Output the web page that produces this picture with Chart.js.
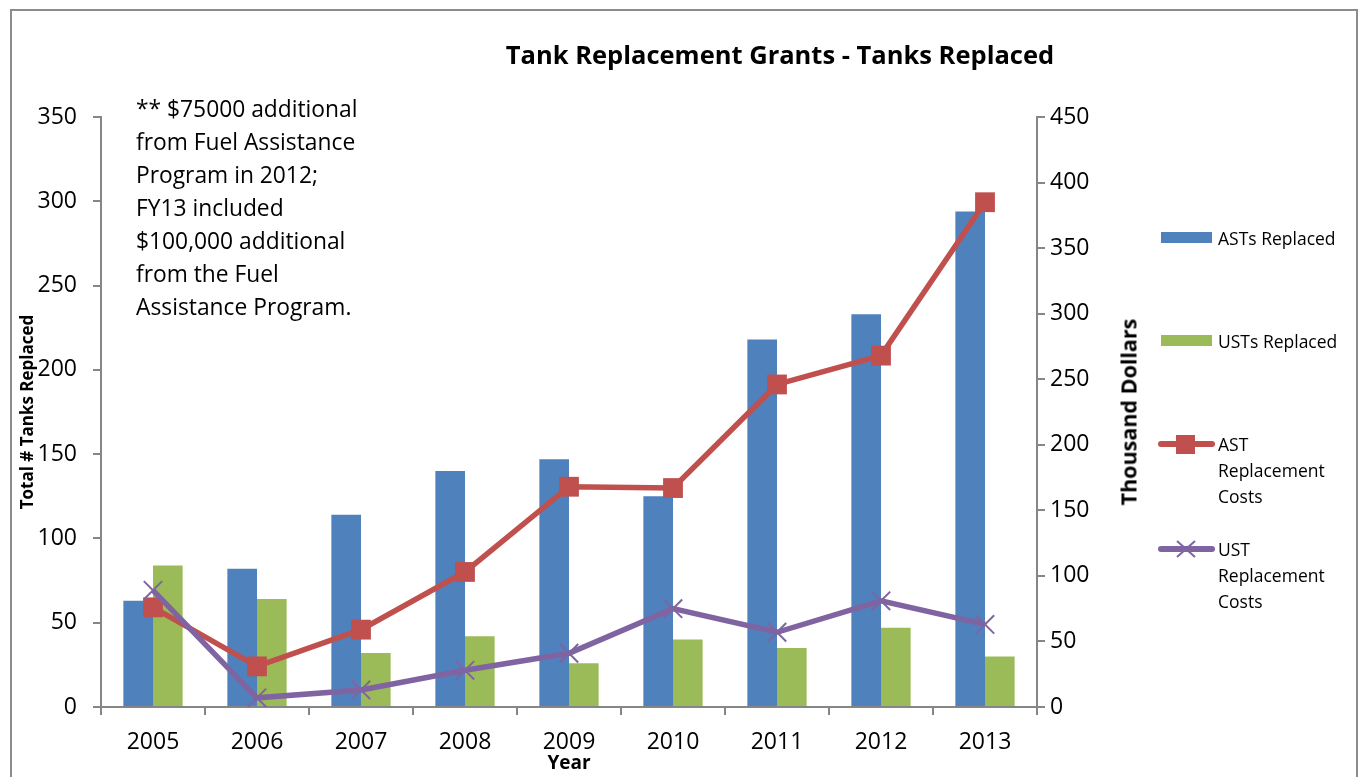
<!DOCTYPE html>
<html>
<head>
<meta charset="utf-8">
<script src="https://cdn.jsdelivr.net/npm/chart.js@4/dist/chart.umd.min.js"></script>
<style>
  body { margin: 0; background: #fff; font-family: "Open Sans", sans-serif; }
  #wrap { position: relative; width: 1361px; height: 777px; overflow: hidden; }
  #frame { position: absolute; left: 10px; top: 9px; width: 1348px; height: 800px; border: 2px solid #8c8c8c; box-sizing: border-box; }
  #chart { position: absolute; left: 0; top: 0; }
  .txt { position: absolute; color: #000; white-space: nowrap; }
  #title { left: 780px; top: 37px; transform: translateX(-50%); font-weight: bold; font-size: 25.5px; }
  #note { left: 136px; top: 92px; font-size: 22.8px; line-height: 33px; }
  #rtitle { left: 1128px; top: 412px; transform: translate(-50%, -50%) rotate(-90deg); font-weight: bold; font-size: 21.5px; }
  .leg { position: absolute; left: 1158px; font-size: 17.5px; line-height: 26px; }
  .leg .sw { position: absolute; left: 3px; width: 51px; height: 11px; }
  .leg svg { position: absolute; left: 0; top: 0; }
  .leg span { position: absolute; left: 60px; top: 0; white-space: nowrap; }
</style>
</head>
<body>
<div id="wrap">
  <div id="frame"></div>
  <canvas id="chart" width="1361" height="777"></canvas>
  <div class="txt" id="title">Tank Replacement Grants - Tanks Replaced</div>
  <div class="txt" id="note">** $75000 additional<br>from Fuel Assistance<br>Program in 2012;<br>FY13 included<br>$100,000 additional<br>from the Fuel<br>Assistance Program.</div>
  <div class="txt" id="rtitle">Thousand Dollars</div>
  <div id="legend"></div>
</div>
<script>
const years = ['2005', '2006', '2007', '2008', '2009', '2010', '2011', '2012', '2013'];
const astReplaced = [63, 82, 114, 140, 147, 125, 218, 233, 294];
const ustReplaced = [84, 64, 32, 42, 26, 40, 35, 47, 30];
const astCosts = [76, 31, 59, 103, 168, 167, 246, 268, 385];
const ustCosts = [89, 7, 13, 28, 41, 75, 57, 81, 63];

const blue = '#4F81BD';
const green = '#9BBB59';
const red = '#C0504D';
const purple = '#8064A2';
const axisGray = '#868686';

const tickFont = { family: 'Open Sans', size: 23 };

// legend drawn as html next to the chart
function buildLegend() {
  let legend = document.getElementById('legend');
  let items = [
    { top: 225, type: 'bar', color: blue, text: 'ASTs Replaced' },
    { top: 328, type: 'bar', color: green, text: 'USTs Replaced' },
    { top: 431, type: 'rect', color: red, text: 'AST<br>Replacement<br>Costs' },
    { top: 536, type: 'cross', color: purple, text: 'UST<br>Replacement<br>Costs' },
  ];
  items.forEach((item) => {
    let div = document.createElement('div');
    div.className = 'leg';
    div.style.top = item.top + 'px';
    let html = '';
    if (item.type === 'bar') {
      html += '<div class="sw" style="top:7px;background:' + item.color + '"></div>';
    } else {
      let mark = item.type === 'rect'
        ? '<rect x="18" y="4" width="19" height="19" fill="' + item.color + '"/>'
        : '<path d="M19 5 L37 21 M37 5 L19 21" stroke="' + item.color + '" stroke-width="2"/>';
      html += '<svg width="58" height="26"><line x1="3" y1="13" x2="54" y2="13" stroke="' + item.color +
        '" stroke-width="6" stroke-linecap="round"/>' + mark + '</svg>';
    }
    html += '<span>' + item.text + '</span>';
    div.innerHTML = html;
    legend.appendChild(div);
  });
}

let ctx = document.getElementById('chart').getContext('2d');

new Chart(ctx, {
  type: 'bar',
  data: {
    labels: years,
    datasets: [
      {
        label: 'ASTs Replaced',
        data: astReplaced,
        backgroundColor: blue,
        yAxisID: 'y',
        order: 2,
        categoryPercentage: 0.57,
        barPercentage: 1.0,
      },
      {
        label: 'USTs Replaced',
        data: ustReplaced,
        backgroundColor: green,
        yAxisID: 'y',
        order: 2,
        categoryPercentage: 0.57,
        barPercentage: 1.0,
      },
      {
        type: 'line',
        label: 'AST Replacement Costs',
        data: astCosts,
        borderColor: red,
        backgroundColor: red,
        borderWidth: 5.5,
        pointStyle: 'rect',
        pointRadius: 14,
        pointBorderWidth: 0,
        yAxisID: 'y2',
        order: 1,
        tension: 0,
      },
      {
        type: 'line',
        label: 'UST Replacement Costs',
        data: ustCosts,
        borderColor: purple,
        backgroundColor: purple,
        borderWidth: 5.5,
        pointStyle: 'crossRot',
        pointRadius: 13,
        pointBorderWidth: 2,
        yAxisID: 'y2',
        order: 0,
        tension: 0,
      },
    ],
  },
  options: {
    responsive: false,
    animation: false,
    layout: { padding: { top: 117, right: 216, bottom: 0, left: 0 } },
    plugins: {
      legend: { display: false },
      title: { display: false },
      tooltip: { enabled: false },
    },
    scales: {
      x: {
        grid: { offset: true, drawOnChartArea: false, tickLength: 8, color: axisGray, lineWidth: 2 },
        border: { color: axisGray, width: 2 },
        ticks: { color: '#000', font: tickFont, padding: 14, maxRotation: 0 },
        title: { display: true, text: 'Year', color: '#000', font: { family: 'Open Sans', size: 19, weight: 'bold' }, padding: { top: 0, bottom: 2 } },
        afterFit: (scale) => { scale.height = 70; },
      },
      y: {
        position: 'left',
        min: 0,
        max: 350,
        ticks: { stepSize: 50, color: '#000', font: tickFont, padding: 16 },
        grid: { drawOnChartArea: false, tickLength: 8, color: axisGray, lineWidth: 2 },
        border: { color: axisGray, width: 2 },
        title: { display: true, text: 'Total # Tanks Replaced', color: '#000', font: { family: 'Open Sans', size: 17, weight: 'bold' }, padding: { top: 18, bottom: 0 } },
        afterFit: (scale) => { scale.width = 101; },
      },
      y2: {
        position: 'right',
        min: 0,
        max: 450,
        ticks: { stepSize: 50, color: '#000', font: tickFont, padding: 5 },
        grid: { drawOnChartArea: false, tickLength: 8, color: axisGray, lineWidth: 2 },
        border: { color: axisGray, width: 2 },
        afterFit: (scale) => { scale.width = 108; },
      },
    },
  },
});

buildLegend();
</script>
</body>
</html>
